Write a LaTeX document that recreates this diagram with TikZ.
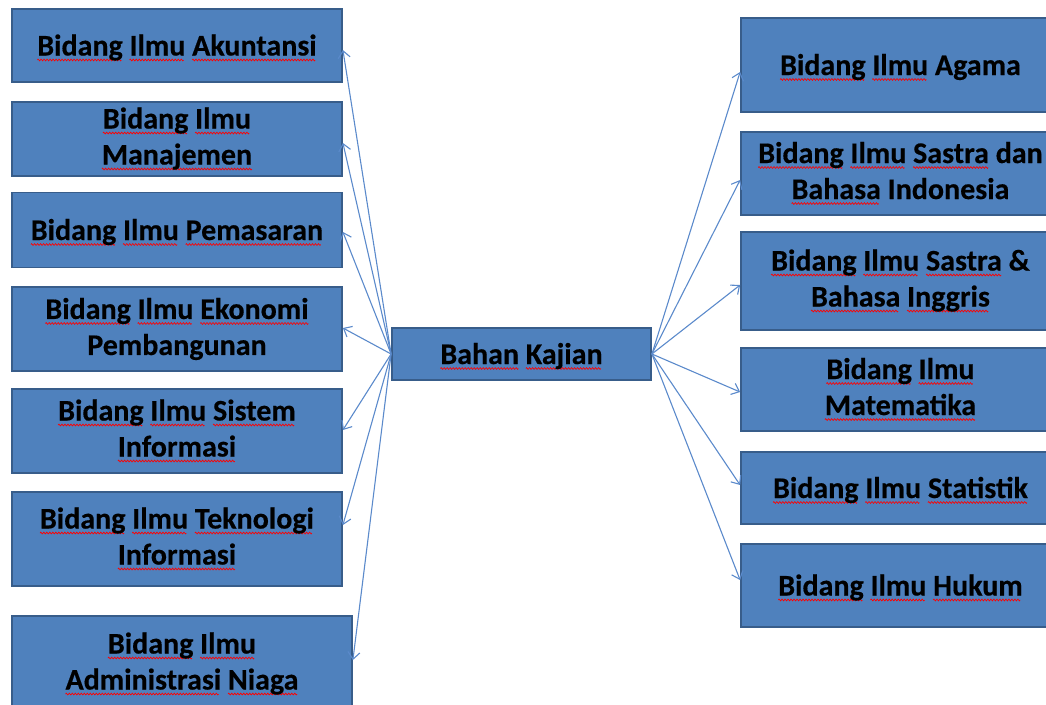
\documentclass[tikz,border=0pt]{standalone}
\usepackage{fontspec}
\setmainfont{Carlito}[BoldFeatures={FakeBold=0.4}]
\usetikzlibrary{arrows.meta,calc}
\definecolor{boxfill}{HTML}{4F81BD}
\definecolor{boxline}{HTML}{385D8A}
\definecolor{arrowcol}{HTML}{5B8ACB}
\newsavebox\wavebox
\newsavebox\wordbox
\newcommand\sq[1]{\sbox\wordbox{#1}\rlap{\lower4.5pt\hbox to \wd\wordbox{\leaders\copy\wavebox\hfil}}\usebox\wordbox}
\tikzset{
  topic/.style={draw=boxline, fill=boxfill, line width=1.8pt, align=center,
    font=\fontsize{30}{36}\selectfont\bfseries, text=black, inner sep=0pt},
  oneline/.style={text height=23pt, text depth=3pt},
  link/.style={draw=arrowcol, line width=1.1pt, -{Straight Barb[length=7pt,width=12pt,line width=1.1pt]}}
}
\begin{document}
\sbox\wavebox{\begin{pgfpicture}%
\pgfpathmoveto{\pgfpoint{0pt}{0pt}}%
\pgfpathlineto{\pgfpoint{0.75pt}{0.9pt}}%
\pgfpathlineto{\pgfpoint{2.25pt}{-0.9pt}}%
\pgfpathlineto{\pgfpoint{3pt}{0pt}}%
\pgfsetstrokecolor{red}\pgfsetlinewidth{0.7pt}%
\pgfusepath{stroke}%
\pgfresetboundingbox
\pgfpathrectangle{\pgfpoint{0pt}{-1.5pt}}{\pgfpoint{3pt}{3pt}}\pgfusepath{use as bounding box}%
\pgfsetbaseline{0pt}%
\end{pgfpicture}}%
\begin{tikzpicture}[x=1pt,y=-1pt]
\useasboundingbox (0,0) rectangle (1046,704);
\clip (0,0) rectangle (1046,704);
% left column
\node[topic, oneline, minimum width=330pt, minimum height=73pt] (b1) at (177,45.5) {\sq{Bidang} \sq{Ilmu} \sq{Akuntansi}};
\node[topic, minimum width=330pt, minimum height=74pt] (b2) at (177,139) {\sq{Bidang} \sq{Ilmu}\\ \sq{Manajemen}};
\node[topic, oneline, minimum width=330pt, minimum height=75pt] (b3) at (177,230) {\sq{Bidang} \sq{Ilmu} \sq{Pemasaran}};
\node[topic, minimum width=330pt, minimum height=84pt] (b4) at (177,329) {\sq{Bidang} \sq{Ilmu} \sq{Ekonomi}\\ Pembangunan};
\node[topic, minimum width=330pt, minimum height=84pt] (b5) at (177,431) {\sq{Bidang} \sq{Ilmu} \sq{Sistem}\\ \sq{Informasi}};
\node[topic, minimum width=330pt, minimum height=94pt] (b6) at (177,539) {\sq{Bidang} \sq{Ilmu} \sq{Teknologi}\\ \sq{Informasi}};
\node[topic, minimum width=340pt, minimum height=96pt] (b7) at (182,664) {\sq{Bidang} \sq{Ilmu}\\ \sq{Administrasi} \sq{Niaga}};
% centre
\node[topic, oneline, minimum width=259pt, minimum height=52pt] (c) at (521.5,354) {\sq{Bahan} \sq{Kajian}};
% right column
\node[topic, oneline, minimum width=319pt, minimum height=94pt] (r1) at (900.5,65) {\sq{Bidang} \sq{Ilmu} Agama};
\node[topic, minimum width=319pt, minimum height=83pt] (r2) at (900.5,173.5) {\sq{Bidang} \sq{Ilmu} \sq{Sastra} dan\\ \sq{Bahasa} Indonesia};
\node[topic, minimum width=319pt, minimum height=98pt] (r3) at (900.5,281) {\sq{Bidang} \sq{Ilmu} \sq{Sastra} \&\\ \sq{Bahasa} \sq{Inggris}};
\node[topic, minimum width=319pt, minimum height=83pt] (r4) at (900.5,389.5) {\sq{Bidang} \sq{Ilmu}\\ \sq{Matematika}};
\node[topic, oneline, minimum width=319pt, minimum height=72pt] (r5) at (900.5,488) {\sq{Bidang} \sq{Ilmu} \sq{Statistik}};
\node[topic, oneline, minimum width=319pt, minimum height=83pt] (r6) at (900.5,585.5) {\sq{Bidang} \sq{Ilmu} \sq{Hukum}};
% connectors
\draw[link] (c.west) -- ($(b1.east)+(0,4.5)$);
\draw[link] (c.west) -- ($(b2.east)+(0,4)$);
\draw[link] (c.west) -- ($(b3.east)+(0,2)$);
\draw[link] (c.west) -- ($(b4.east)+(0,-1)$);
\draw[link] (c.west) -- ($(b5.east)+(0,-1)$);
\draw[link] (c.west) -- ($(b6.east)+(0,-14)$);
\draw[link] (c.west) -- ($(b7.east)+(0,-4)$);
\draw[link] (c.east) -- ($(r1.west)+(0,7)$);
\draw[link] (c.east) -- ($(r2.west)+(0,6.5)$);
\draw[link] (c.east) -- ($(r3.west)+(0,4)$);
\draw[link] (c.east) -- ($(r4.west)+(0,2.5)$);
\draw[link] (c.east) -- ($(r5.west)+(0,-3)$);
\draw[link] (c.east) -- ($(r6.west)+(0,-5.5)$);
\end{tikzpicture}
\end{document}
